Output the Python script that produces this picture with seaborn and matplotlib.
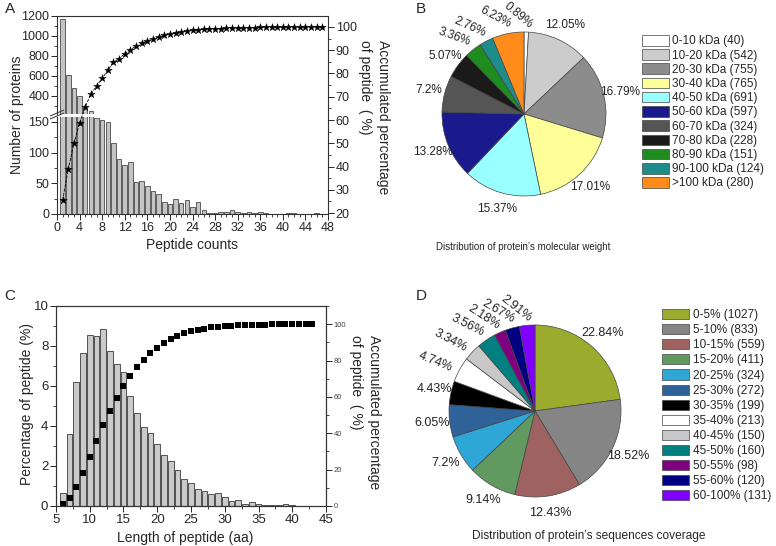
import numpy as np
import pandas as pd
import matplotlib
matplotlib.use('Agg')
import matplotlib.pyplot as plt
from matplotlib.ticker import MultipleLocator
import seaborn as sns

# ---- data: panel A (peptide counts per protein)
pep_counts = list(range(1, 48))
n_proteins = [1175, 607, 484, 397, 284, 250, 157, 153, 150, 115, 89, 80, 84, 52, 53, 45,
              37.5, 32.6, 19, 16.3, 24.5, 18.5, 23.4, 12, 19, 6, 1.6, 1, 2.7, 3.8, 6, 3.8,
              2.2, 3.8, 1.6, 2.7, 1, 0.5, 0.3, 0.3, 1, 2.2, 0.5, 0.3, 0.3, 1.2, 0.3]
acc_a = [25.5, 39, 50, 58.7, 65.7, 71, 74.6, 78, 81.4, 84.8, 86.4, 88.5, 90.3, 91.7, 93, 94,
         94.9, 95.7, 96.4, 96.9, 97.4, 97.8, 98.2, 98.5, 98.8, 99.0, 99.1, 99.2, 99.3, 99.4,
         99.5, 99.6, 99.65, 99.7, 99.75, 99.8, 99.85, 99.85, 99.9, 99.9, 99.92, 99.95, 99.97,
         99.97, 99.98, 99.99, 100]

# ---- data: panel B (molecular weight)
mw_labels = ['0-10 kDa (40)', '10-20 kDa (542)', '20-30 kDa (755)', '30-40 kDa (765)',
             '40-50 kDa (691)', '50-60 kDa (597)', '60-70 kDa (324)', '70-80 kDa (228)',
             '80-90 kDa (151)', '90-100 kDa (124)', '>100 kDa (280)']
mw_counts = [40, 542, 755, 765, 691, 597, 324, 228, 151, 124, 280]
mw_pct = ['0.89%', '12.05%', '16.79%', '17.01%', '15.37%', '13.28%', '7.2%', '5.07%',
          '3.36%', '2.76%', '6.23%']
mw_colors = ['#ffffff', '#cccccc', '#8c8c8c', '#ffff99', '#99ffff', '#1a1a8c', '#555555',
             '#1a1a1a', '#1f8c1f', '#1f8c8c', '#ff8c1a']

# ---- data: panel C (peptide length)
pep_len = list(range(6, 44))
pct_pep = [0.67, 3.59, 6.19, 7.66, 8.55, 8.5, 8.83, 7.73, 7.11, 6.71, 5.48, 4.67, 3.96, 3.67,
           3.12, 2.55, 2.24, 1.79, 1.37, 1.13, 0.83, 0.75, 0.58, 0.63, 0.47, 0.27, 0.3, 0.1,
           0.18, 0.12, 0.07, 0.05, 0.06, 0.08, 0.03, 0.01, 0.01, 0.01]
acc_c = [1.1, 4.4, 10.5, 18.3, 26.9, 35.5, 44.4, 52.2, 59.3, 66.2, 71.5, 76.3, 80.4, 83.9,
         87.1, 89.8, 91.9, 93.7, 95.2, 96.1, 97.0, 97.6, 98.2, 98.5, 98.9, 99.2, 99.4, 99.5,
         99.6, 99.7, 99.8, 99.85, 99.9, 99.95, 99.97, 99.98, 99.99, 100]

# ---- data: panel D (sequence coverage)
cov_labels = ['0-5% (1027)', '5-10% (833)', '10-15% (559)', '15-20% (411)', '20-25% (324)',
              '25-30% (272)', '30-35% (199)', '35-40% (213)', '40-45% (150)', '45-50% (160)',
              '50-55% (98)', '55-60% (120)', '60-100% (131)']
cov_counts = [1027, 833, 559, 411, 324, 272, 199, 213, 150, 160, 98, 120, 131]
cov_pct = ['22.84%', '18.52%', '12.43%', '9.14%', '7.2%', '6.05%', '4.43%', '4.74%', '3.34%',
           '3.56%', '2.18%', '2.67%', '2.91%']
cov_colors = ['#9aab2e', '#858585', '#9e6360', '#609a60', '#2ea6d6', '#2f6299', '#000000',
              '#ffffff', '#c8c8c8', '#008080', '#800080', '#000080', '#8000ff']

sns.set_style('ticks')
plt.rcParams['font.family'] = ['Liberation Sans', 'DejaVu Sans']
plt.rcParams['axes.linewidth'] = 0.8
plt.rcParams['axes.edgecolor'] = '#333333'

W, H = 776, 546
fig = plt.figure(figsize=(W / 100, H / 100), dpi=100)


def rect(x0, y0, x1, y1):
    return [x0 / W, 1 - y1 / H, (x1 - x0) / W, (y1 - y0) / H]


def style_ticks(ax, size=9):
    ax.tick_params(which='major', length=4, width=0.7, labelsize=size, pad=1.5)
    ax.tick_params(which='minor', length=2, width=0.6)


# ================= A =================
df_a = pd.DataFrame({'count': pep_counts, 'proteins': n_proteins, 'acc': acc_a})
ax_up = fig.add_axes(rect(57, 16, 328, 114))
ax_lo = fig.add_axes(rect(57, 117, 328, 214))
for ax in (ax_up, ax_lo):
    sns.barplot(data=df_a, x='count', y='proteins', native_scale=True, width=0.8,
                color='#c4c4c4', saturation=1, edgecolor='#4a4a4a', linewidth=0.6,
                errorbar=None, ax=ax)
    ax.set_xlim(0, 48)
    ax.set_xlabel('')
    ax.set_ylabel('')
    ax.spines['right'].set_visible(False)
    style_ticks(ax)
ax_up.set_ylim(220, 1200)
ax_up.set_yticks([400, 600, 800, 1000, 1200])
ax_up.yaxis.set_minor_locator(MultipleLocator(100))
ax_up.spines['bottom'].set_visible(False)
ax_up.tick_params(axis='x', which='both', bottom=False, labelbottom=False)
ax_lo.set_ylim(0, 158)
ax_lo.set_yticks([0, 50, 100, 150])
ax_lo.yaxis.set_minor_locator(MultipleLocator(25))
ax_lo.spines['top'].set_visible(False)
ax_lo.set_xticks(range(0, 49, 4))
ax_lo.xaxis.set_minor_locator(MultipleLocator(1))
ax_lo.set_xlabel('Peptide counts', fontsize=10)
ax_lo.xaxis.set_label_coords(0.498, -0.245)

# break marks on the left spine
for ax, yy in ((ax_up, 0.0), (ax_lo, 1.0)):
    ax.plot([-0.025, 0.025], [yy - 0.02, yy + 0.04], transform=ax.transAxes,
            color='#333333', lw=0.7, clip_on=False)

ax_r = fig.add_axes(rect(57, 16, 328, 214))
ax_r.patch.set_visible(False)
sns.lineplot(data=df_a, x='count', y='acc', color='black', lw=0.6, linestyle='--', ax=ax_r)
sns.scatterplot(data=df_a, x='count', y='acc', marker='*', s=32, color='black',
                edgecolor='black', linewidth=0.3, ax=ax_r, zorder=5)
ax_r.set_xlim(0, 48)
ax_r.set_ylim(19.6, 104.7)
ax_r.xaxis.set_visible(False)
for s in ('left', 'top', 'bottom'):
    ax_r.spines[s].set_visible(False)
ax_r.yaxis.tick_right()
ax_r.set_yticks(range(20, 101, 10))
ax_r.yaxis.set_minor_locator(MultipleLocator(5))
ax_r.set_ylabel('')
style_ticks(ax_r)

fig.text(17 / W, 1 - 115 / H, 'Number of proteins', rotation=90, fontsize=10,
         ha='center', va='center')
fig.text(374 / W, 1 - 117 / H, 'Accumulated percentage\nof peptide  ( %)', rotation=270,
         fontsize=10, ha='center', va='center', ma='left', linespacing=1.45)

# ================= C =================
df_c = pd.DataFrame({'length': pep_len, 'pct': pct_pep, 'acc': acc_c})
ax_c = fig.add_axes(rect(56, 306, 326, 506))
sns.barplot(data=df_c, x='length', y='pct', native_scale=True, width=0.85,
            color='#cacaca', saturation=1, edgecolor='#3a3a3a', linewidth=0.6,
            errorbar=None, ax=ax_c)
ax_c.set_xlim(5, 45)
ax_c.set_ylim(0, 10)
ax_c.set_xticks(range(5, 46, 5))
ax_c.xaxis.set_minor_locator(MultipleLocator(2.5))
ax_c.set_yticks(range(0, 11, 2))
ax_c.yaxis.set_minor_locator(MultipleLocator(1))
ax_c.set_xlabel('Length of peptide (aa)', fontsize=10)
ax_c.set_ylabel('Percentage of peptide (%)', fontsize=10)
ax_c.xaxis.set_label_coords(0.478, -0.125)
ax_c.yaxis.set_label_coords(-0.08, 0.51)
style_ticks(ax_c, 9.5)

ax_c2 = ax_c.twinx()
sns.scatterplot(data=df_c, x='length', y='acc', marker='s', s=14, color='black',
                edgecolor='black', linewidth=0, ax=ax_c2)
ax_c2.set_ylim(0, 110)
ax_c2.set_yticks(range(0, 101, 20))
ax_c2.yaxis.set_minor_locator(MultipleLocator(10))
ax_c2.set_ylabel('')
style_ticks(ax_c2, 5.5)
ax_c2.tick_params(axis='y', labelcolor='#444444')
fig.text(365 / W, 1 - 412 / H, 'Accumulated percentage\nof peptide  ( %)', rotation=270,
         fontsize=10, ha='center', va='center', ma='left', linespacing=1.45)


# ================= pies =================
def draw_pie(ax_rect, counts, colors, pcts, labels, rot, fsize, leg_anchor, leg_kw):
    ax = fig.add_axes(ax_rect)
    wedges, texts = ax.pie(counts, colors=colors, startangle=90, counterclock=False,
                           labels=pcts, labeldistance=1.2,
                           wedgeprops=dict(edgecolor='#444444', linewidth=0.5),
                           textprops=dict(fontsize=fsize, color='#222222'))
    for i, t in enumerate(texts):
        t.set_ha('center')
        t.set_va('center')
        if i in rot:
            x, y = t.get_position()
            t.set_position((x - 0.11, y))
            t.set_rotation(rot[i])
    ax.set_xlim(-1, 1)
    ax.set_ylim(-1, 1)
    ax.set_aspect('equal', adjustable='box')
    ax.legend(wedges, labels, loc='upper left', bbox_to_anchor=leg_anchor,
              bbox_transform=fig.transFigure, frameon=False, borderpad=0,
              borderaxespad=0, **leg_kw)
    return ax


draw_pie(rect(442, 32, 606, 196), mw_counts, mw_colors, mw_pct, mw_labels,
         {0: -40, 10: -28, 9: -24, 8: -20}, 8.5, (641.7 / W, 1 - 35 / H),
         dict(fontsize=8.5, handlelength=2.3, handleheight=1.0, labelspacing=0.16,
              handletextpad=0.3))
draw_pie(rect(449, 325, 621, 497), cov_counts, cov_colors, cov_pct, cov_labels,
         {7: -22, 8: -28, 9: -27, 10: -33, 11: -30, 12: -38}, 9, (661.7 / W, 1 - 309 / H),
         dict(fontsize=8.5, handlelength=2.34, handleheight=0.95, labelspacing=0.25,
              handletextpad=0.3))

fig.text(523 / W, 1 - 247 / H, 'Distribution of protein’s molecular weight', fontsize=7,
         ha='center', va='center')
fig.text(589 / W, 1 - 536 / H, 'Distribution of protein’s sequences coverage', fontsize=8.6,
         ha='center', va='center')

for lab, (px, py) in zip('ABCD', [(10, 9), (421, 9), (10, 296), (421, 296)]):
    fig.text(px / W, 1 - py / H, lab, fontsize=11, ha='center', va='center')

fig.savefig('out.png', dpi=100)
